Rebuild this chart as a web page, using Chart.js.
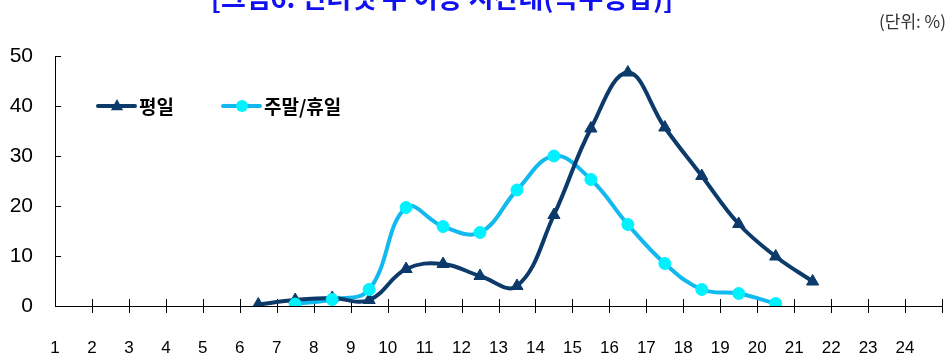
<!DOCTYPE html>
<html><head><meta charset="utf-8">
<script src="https://cdn.jsdelivr.net/npm/chart.js@4.4.1/dist/chart.umd.min.js"></script>
<style>html,body{margin:0;padding:0;background:#fff;overflow:hidden}</style>
</head><body>
<canvas id="c" width="950" height="358"></canvas>
<script>
const titleText = '[그림6. 인터넷 주 이용 시간대(복수응답)]';
const unitText = '(단위: %)';
const seriesNames = ['평일', '주말/휴일'];
const hourLabels = ['1','2','3','4','5','6','7','8','9','10','11','12','13','14','15','16','17','18','19','20','21','22','23','24'];
const weekday = [null,null,null,null,null,0.3,1.2,1.6,1.2,7.4,8.4,6.0,4.0,18.2,35.5,46.7,35.7,26.0,16.4,9.9,4.9,null,null,null];
const weekend = [null,null,null,null,null,null,0.4,1.3,3.3,19.7,15.9,14.7,23.2,30.0,25.3,16.3,8.5,3.3,2.5,0.5,null,null,null,null];
const yTicks = [0,10,20,30,40,50];

const navy = '#0B3A6B';
const skyLine = '#12B9EE';
const skyMark = '#00F2FF';

const toPts = arr => arr.map((v,i)=>({x:i+0.5, y:v}));

const decor = {
  id:'decor',
  beforeDatasetsDraw(chart){
    const ctx = chart.ctx, xs = chart.scales.x, ys = chart.scales.y;
    const y0 = ys.getPixelForValue(0), xL = xs.getPixelForValue(0);
    ctx.save();
    ctx.strokeStyle = '#000'; ctx.lineWidth = 1;
    for (let v=1; v<=hourLabels.length; v++){
      const x = Math.round(xs.getPixelForValue(v))+0.5;
      ctx.beginPath(); ctx.moveTo(x, y0-7); ctx.lineTo(x, y0+7); ctx.stroke();
    }
    yTicks.forEach(v=>{
      if (v===0) return;
      const y = Math.round(ys.getPixelForValue(v))+0.5;
      ctx.beginPath(); ctx.moveTo(xL, y); ctx.lineTo(xL+6, y); ctx.stroke();
    });
    ctx.restore();
  },
  afterDraw(chart){
    const ctx = chart.ctx;
    ctx.save();
    // title (cut off at top)
    ctx.fillStyle = '#1010F0';
    ctx.font = 'bold 27px "Noto Sans CJK KR"';
    ctx.textAlign = 'center'; ctx.textBaseline = 'alphabetic';
    ctx.fillText(titleText, 442, 8);
    // unit
    ctx.fillStyle = '#333';
    ctx.font = '17px "Noto Sans CJK KR"';
    ctx.textAlign = 'right'; ctx.textBaseline = 'middle';
    ctx.fillText(unitText, 946, 22);
    // legend
    const ly = chart.scales.y.getPixelForValue(40);
    const items = [
      {x:98, color:navy, mark:navy, style:'triangle', r:7, text:seriesNames[0]},
      {x:223, color:skyLine, mark:skyMark, style:'circle', r:6, text:seriesNames[1]}
    ];
    items.forEach(it=>{
      ctx.strokeStyle = it.color; ctx.lineWidth = 4; ctx.lineCap='round';
      ctx.beginPath(); ctx.moveTo(it.x, ly); ctx.lineTo(it.x+37, ly); ctx.stroke();
      ctx.fillStyle = it.mark; ctx.strokeStyle = it.mark; ctx.lineWidth = 1;
      ctx.beginPath();
      if (it.style==='circle'){ ctx.arc(it.x+19, ly, it.r, 0, Math.PI*2); }
      else { ctx.moveTo(it.x+19, ly-it.r); ctx.lineTo(it.x+19+it.r*0.87, ly+it.r*0.6); ctx.lineTo(it.x+19-it.r*0.87, ly+it.r*0.6); ctx.closePath(); }
      ctx.fill();
      ctx.fillStyle = '#000';
      ctx.font = 'bold 19px "Noto Sans CJK KR"';
      ctx.textAlign = 'left'; ctx.textBaseline = 'middle';
      ctx.fillText(it.text, it.x+41, ly+1);
    });
    ctx.restore();
  }
};

new Chart(document.getElementById('c'), {
  type:'line',
  data:{
    datasets:[
      {label:seriesNames[1]+' 점', data:toPts(weekend), showLine:false, pointStyle:'circle', pointRadius:6, pointBackgroundColor:skyMark, pointBorderColor:skyMark, pointBorderWidth:1, order:0},
      {label:seriesNames[0]+' 점', data:toPts(weekday), showLine:false, pointStyle:'triangle', pointRadius:7, pointBackgroundColor:navy, pointBorderColor:navy, pointBorderWidth:1, order:1},
      {label:seriesNames[0], data:toPts(weekday), borderColor:navy, borderWidth:4, pointRadius:0, tension:0.4, order:2},
      {label:seriesNames[1], data:toPts(weekend), borderColor:skyLine, borderWidth:4, pointRadius:0, tension:0.4, order:3}
    ]
  },
  options:{
    responsive:false, animation:false, devicePixelRatio:1,
    layout:{padding:{top:56, right:5, left:0, bottom:0}},
    plugins:{legend:{display:false}, tooltip:{enabled:false}, title:{display:false}},
    scales:{
      x:{type:'linear', min:0, max:24,
        afterFit(s){ s.height = 52; s.paddingLeft = 0; s.paddingRight = 0; },
        afterBuildTicks(s){ s.ticks = hourLabels.map((l,i)=>({value:i})).concat([{value:24}]); },
        grid:{display:true, drawOnChartArea:false, drawTicks:false},
        border:{display:true, color:'#000', width:1},
        ticks:{padding:32, color:'#000', font:{family:'"Liberation Sans", Arial', size:17}, autoSkip:false, maxRotation:0,
          callback:(v)=> hourLabels[v] !== undefined ? hourLabels[v] : ''}
      },
      y:{min:0, max:50,
        afterFit(s){ s.width = 55; s.paddingTop = 0; s.paddingBottom = 0; },
        afterBuildTicks(s){ s.ticks = yTicks.map(v=>({value:v})); },
        grid:{display:true, drawOnChartArea:false, drawTicks:false},
        border:{display:true, color:'#000', width:1},
        ticks:{padding:22, color:'#000', font:{family:'"Liberation Sans", Arial', size:21}}
      }
    }
  },
  plugins:[decor]
});
</script>
</body></html>
